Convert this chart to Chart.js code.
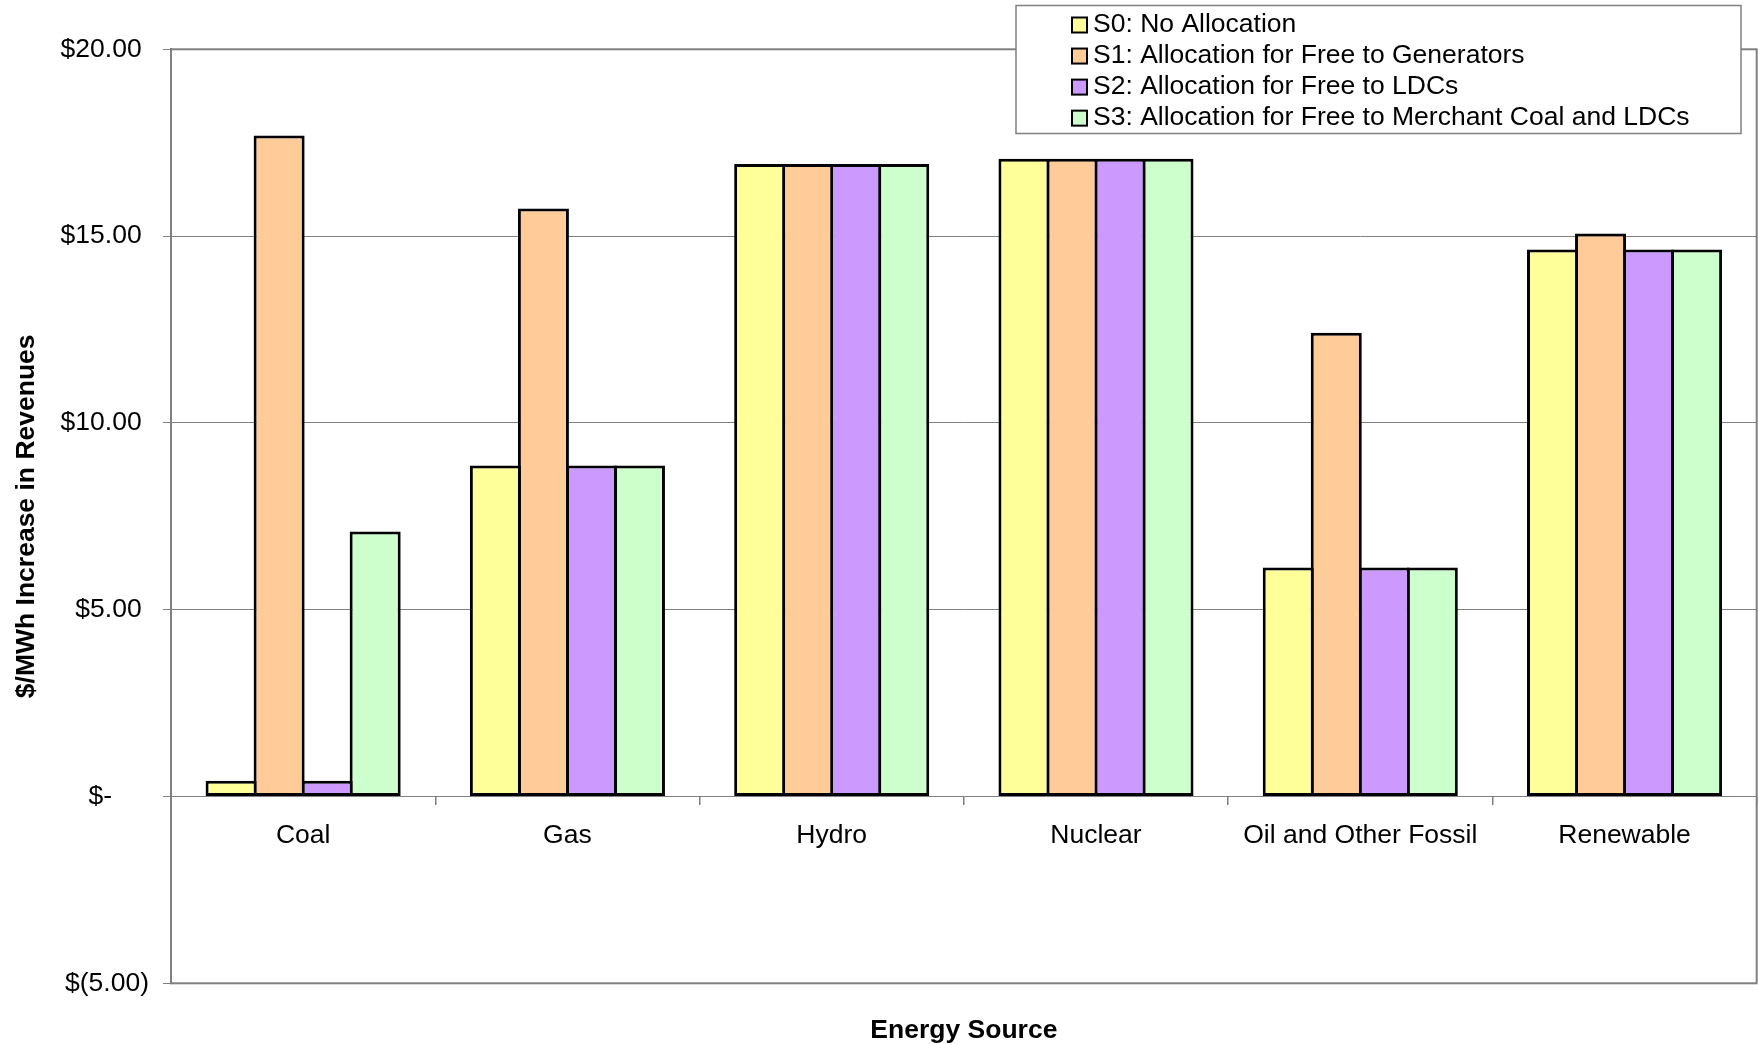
<!DOCTYPE html>
<html>
<head>
<meta charset="utf-8">
<title>$/MWh Increase in Revenues by Energy Source</title>
<script src="https://cdn.jsdelivr.net/npm/chart.js@4.4.1/dist/chart.umd.min.js"></script>
<style>
  html, body { margin: 0; padding: 0; background: #ffffff; }
  canvas { display: block; }
</style>
</head>
<body>
<canvas id="chart" width="1758" height="1045"></canvas>
<script>
// Energy sources on the category axis
const categories = ['Coal', 'Gas', 'Hydro', 'Nuclear', 'Oil and Other Fossil', 'Renewable'];

// Allocation scenarios
const seriesNames = [
  'S0: No Allocation',
  'S1: Allocation for Free to Generators',
  'S2: Allocation for Free to LDCs',
  'S3: Allocation for Free to Merchant Coal and LDCs'
];

// $/MWh increase in revenues per scenario
const s0Values = [0.42, 8.86, 16.93, 17.07, 6.13, 14.64];
const s1Values = [17.69, 15.74, 16.93, 17.07, 12.41, 15.07];
const s2Values = [0.42, 8.86, 16.93, 17.07, 6.13, 14.64];
const s3Values = [7.09, 8.86, 16.93, 17.07, 6.13, 14.64];

// Value axis labels, bottom to top
const yTickValues = [-5, 0, 5, 10, 15, 20];
const yTickLabels = ['$(5.00)', '$-', '$5.00', '$10.00', '$15.00', '$20.00'];

const seriesColors = ['#FFFF99', '#FFCC99', '#CC99FF', '#CCFFCC'];
const seriesValues = [s0Values, s1Values, s2Values, s3Values];

const FONT = '"Liberation Sans", Arial, Helvetica, sans-serif';
const FONT_SIZE = 26.5;
Chart.defaults.font.family = FONT;
Chart.defaults.font.size = FONT_SIZE;
Chart.defaults.color = '#000000';

const BAR_BORDER = 3;

// Grey frame around the plot area, painted underneath the bars
const plotFrame = {
  id: 'plotFrame',
  beforeDatasetsDraw(chart) {
    const { ctx, chartArea: a } = chart;
    ctx.save();
    ctx.strokeStyle = '#808080';
    ctx.lineWidth = 2;
    ctx.strokeRect(a.left, a.top, a.right - a.left, a.bottom - a.top);
    ctx.restore();
  }
};

// Boxed legend in the upper right, overlapping the plot frame
const boxedLegend = {
  id: 'boxedLegend',
  afterDraw(chart) {
    const { ctx } = chart;
    const box = { x: 1016, y: 5.5, w: 725, h: 128 };
    ctx.save();
    ctx.fillStyle = '#ffffff';
    ctx.fillRect(box.x, box.y, box.w, box.h);
    ctx.strokeStyle = '#808080';
    ctx.lineWidth = 1.5;
    ctx.strokeRect(box.x, box.y, box.w, box.h);
    ctx.font = FONT_SIZE + 'px ' + FONT;
    ctx.textBaseline = 'middle';
    ctx.textAlign = 'left';
    chart.data.datasets.forEach((ds, i) => {
      const cy = 25 + i * 31.05;
      ctx.fillStyle = ds.backgroundColor;
      ctx.fillRect(1072, cy - 7.5, 15, 15);
      ctx.strokeStyle = '#000000';
      ctx.lineWidth = 2;
      ctx.strokeRect(1072, cy - 7.5, 15, 15);
      ctx.fillStyle = '#000000';
      ctx.fillText(ds.label, 1093, cy);
    });
    ctx.restore();
  }
};

const datasets = seriesNames.map((name, i) => ({
  label: name,
  data: seriesValues[i],
  backgroundColor: seriesColors[i],
  borderColor: '#000000',
  borderWidth: BAR_BORDER,
  borderSkipped: false,
  categoryPercentage: 0.7268,
  // neighbouring bars overlap by one border width so they share a single edge line
  barPercentage: (48 + BAR_BORDER) / 48,
  xAxisID: 'x',
  yAxisID: 'y'
}));

new Chart(document.getElementById('chart'), {
  type: 'bar',
  data: { labels: categories, datasets },
  plugins: [plotFrame, boxedLegend],
  options: {
    responsive: false,
    devicePixelRatio: 1,
    animation: false,
    layout: { padding: { top: 49.3, right: 1.3, left: 0, bottom: 0 } },
    plugins: {
      legend: { display: false },
      tooltip: { enabled: false }
    },
    scales: {
      x: {
        type: 'category',
        position: { y: 0 },
        afterFit(scale) { scale.height = 0; },
        grid: {
          display: true,
          offset: true,
          drawOnChartArea: false,
          drawTicks: true,
          tickLength: 8,
          color: '#808080',
          lineWidth: 1.5
        },
        border: { display: false },
        ticks: {
          autoSkip: false,
          maxRotation: 0,
          minRotation: 0,
          padding: 15.3,
          color: '#000000',
          font: { size: FONT_SIZE }
        }
      },
      xTitle: {
        type: 'category',
        position: 'bottom',
        display: true,
        afterFit(scale) { scale.height = 61.7; },
        grid: { display: false },
        border: { display: false },
        ticks: { display: false },
        title: {
          display: true,
          text: 'Energy Source',
          color: '#000000',
          font: { size: FONT_SIZE, weight: 'bold', lineHeight: 1.1 },
          padding: { top: 0, bottom: 0.2 }
        }
      },
      y: {
        type: 'linear',
        position: 'left',
        min: -5,
        max: 20,
        afterFit(scale) { scale.width = 171; },
        afterBuildTicks(scale) {
          scale.ticks = yTickValues.map(v => ({ value: v }));
        },
        grid: {
          color: '#808080',
          lineWidth: 1,
          drawTicks: true,
          tickLength: 8
        },
        border: { display: true, color: '#4d4d4d', width: 2 },
        ticks: {
          padding: 14,
          color: '#000000',
          font: { size: FONT_SIZE },
          callback(value, index) {
            const label = yTickLabels[index];
            // accounting format: digits stay aligned left of the closing-parenthesis slot
            if (label.endsWith(')')) return label;
            if (label === '$-') return label + '     ';
            return label + ' ';
          }
        },
        title: {
          display: true,
          text: '$/MWh Increase in Revenues',
          color: '#000000',
          font: { size: FONT_SIZE, weight: 'bold' },
          padding: { top: 10.7, bottom: 0 }
        }
      }
    }
  }
});
</script>
</body>
</html>
